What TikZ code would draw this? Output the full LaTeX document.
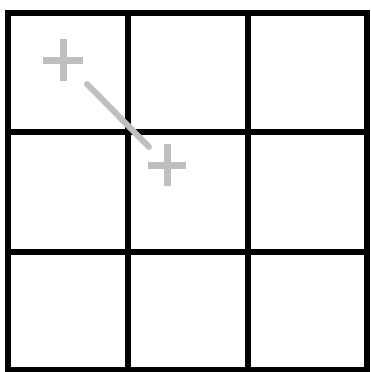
\documentclass[tikz,border=0pt]{standalone}
\begin{document}
\begin{tikzpicture}[x=1pt,y=-1pt,
  gridline/.style={line width=6pt,black,line cap=rect},
  plusmark/.style={line width=7pt,draw=gray!50},
  joinline/.style={line width=6pt,draw=gray!50,line cap=round}]
\useasboundingbox[fill=white] (0,0) rectangle (370,372);
% grid
\foreach \x in {8,128,248,367} \draw[gridline] (\x,13) -- (\x,370);
\foreach \y in {13,132,252,370} \draw[gridline] (8,\y) -- (367,\y);
% markers
\coordinate (p1) at (63,60);
\coordinate (p2) at (167,165);
\draw[plusmark] ([xshift=-20pt]p1) -- ([xshift=20pt]p1);
\draw[plusmark] ([yshift=-21pt]p1) -- ([yshift=21pt]p1);
\draw[plusmark] ([xshift=-19pt]p2) -- ([xshift=19pt]p2);
\draw[plusmark] ([yshift=-21pt]p2) -- ([yshift=21pt]p2);
\coordinate (a) at (87,84);
\coordinate (b) at (149,147);
\draw[joinline] (a) -- (b);
\end{tikzpicture}
\end{document}
